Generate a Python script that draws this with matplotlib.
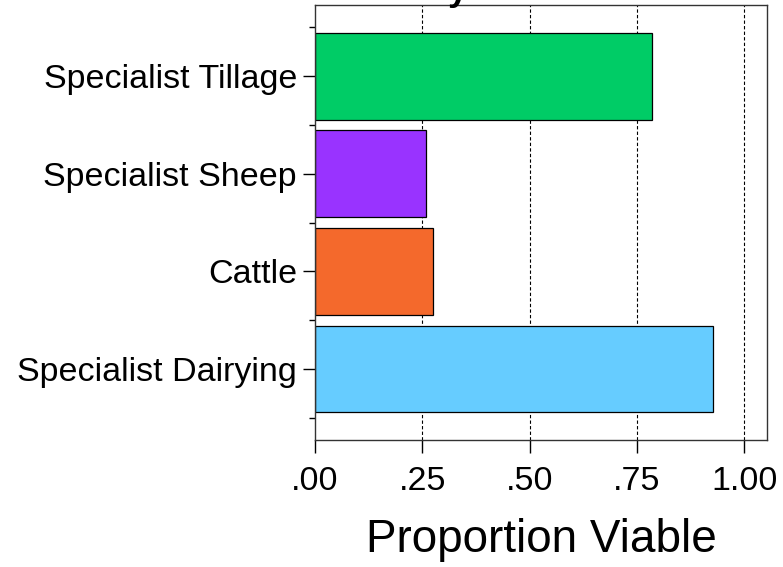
import numpy as np
import matplotlib.pyplot as plt

categories = ['Specialist Tillage', 'Specialist Sheep', 'Cattle', 'Specialist Dairying']
values = [0.786, 0.259, 0.275, 0.928]
colors = ['#00CC66', '#9933FF', '#F4692C', '#66CCFF']
xticks = [0.0, 0.25, 0.5, 0.75, 1.0]
xticklabels = ['.00', '.25', '.50', '.75', '1.00']

plt.rcParams['font.family'] = ['Liberation Sans', 'DejaVu Sans']

fig = plt.figure(figsize=(7.83, 5.67), dpi=100)
ax = fig.add_axes([0.4023, 0.224, 0.5773, 0.767])

ypos = np.arange(len(categories))
for xv in xticks[1:]:
    ax.axvline(xv, color='black', lw=0.8, ls=(0, (3, 2)), zorder=0)
ax.barh(ypos, values, height=0.89, color=colors, edgecolor='black', lw=0.9, zorder=2)

ax.set_xlim(0, 1.053)
ax.set_ylim(3.727, -0.727)
ax.set_yticks(ypos)
ax.set_yticklabels(categories, fontsize=24.5)
ax.set_yticks(np.arange(-0.5, len(categories), 1.0), minor=True)
ax.set_xticks(xticks)
ax.set_xticklabels(xticklabels, fontsize=24.5)
ax.tick_params(axis='y', which='major', length=9, width=1, pad=4)
ax.tick_params(axis='y', which='minor', length=4.5, width=1)
ax.tick_params(axis='x', length=9, width=1, pad=10)
ax.set_xlabel('Proportion Viable', fontsize=33, labelpad=15)

for s in ax.spines.values():
    s.set_color('#333333')
    s.set_linewidth(1)

fig.text(0.585, 1.0, 'y', fontsize=26, fontweight='bold', ha='center', va='baseline')

fig.savefig('out.png', dpi=100)
